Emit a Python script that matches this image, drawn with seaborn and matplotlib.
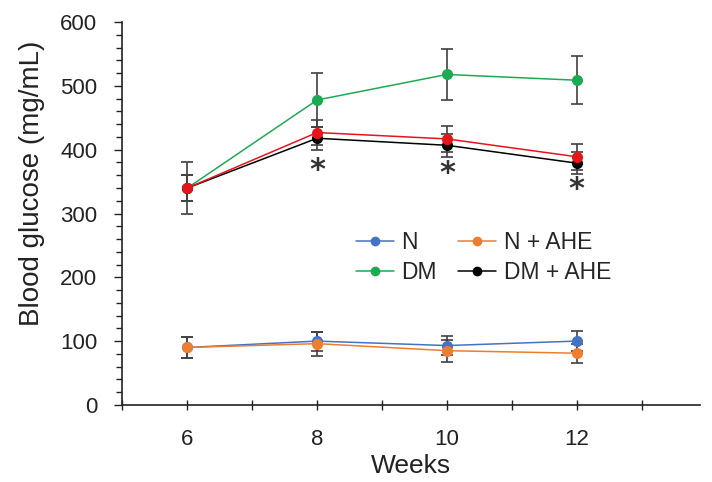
import pandas as pd
import matplotlib
matplotlib.use("Agg")
import matplotlib.pyplot as plt
import seaborn as sns
from matplotlib.lines import Line2D
from matplotlib.ticker import MultipleLocator

weeks = [6, 8, 10, 12]
groups = ["N", "DM", "N + AHE", "DM + AHE", "DM + AHE (2)"]

n_vals = [90, 100, 93, 100]
n_err = [17, 15, 15, 16]
n_ahe_vals = [90, 96, 85, 81]
n_ahe_err = [17, 19, 17, 15]
dm_vals = [340, 478, 518, 509]
dm_err = [40, 42, 40, 38]
dm_ahe_vals = [340, 418, 407, 379]
dm_ahe_err = [20, 18, 18, 17]
red_vals = [340, 427, 417, 389]
red_err = [20, 20, 20, 20]

star_weeks = [8, 10, 12]
star_y = [372, 367, 342]

colors = {"N": "#4472C4", "DM": "#1DAA55", "N + AHE": "#ED7D31",
          "DM + AHE": "#000000", "DM + AHE (2)": "#E8141B"}

series = {"N": (n_vals, n_err), "DM": (dm_vals, dm_err),
          "N + AHE": (n_ahe_vals, n_ahe_err), "DM + AHE": (dm_ahe_vals, dm_ahe_err),
          "DM + AHE (2)": (red_vals, red_err)}

rows = []
for g in groups:
    vals, errs = series[g]
    for w, v, e in zip(weeks, vals, errs):
        rows.append({"week": w, "glucose": v, "err": e, "group": g})
df = pd.DataFrame(rows)

sns.set_style("ticks")
plt.rcParams["font.family"] = ["Liberation Sans", "DejaVu Sans"]

fig = plt.figure(figsize=(7.12, 4.82), dpi=100)
ax = fig.add_axes([0.172, 0.16, 0.811, 0.794])

# error bars first, grey caps
for g in groups:
    d = df[df["group"] == g]
    ax.errorbar(d["week"], d["glucose"], yerr=d["err"], fmt="none",
                ecolor="#404040", elinewidth=1.2, capsize=4, capthick=1.2, zorder=2)

sns.lineplot(data=df, x="week", y="glucose", hue="group", hue_order=groups,
             palette=colors, marker="o", markersize=8, markeredgewidth=0,
             linewidth=1.1, ax=ax, legend=False, zorder=3)

# significance marks, six-armed asterisk
for w, y in zip(star_weeks, star_y):
    ax.text(w, y, "*", ha="center", va="center_baseline", fontsize=22,
            fontweight="bold", color="#333333", family="DejaVu Sans")

# legend (red series is not listed)
handles = [Line2D([], [], color=colors[g], marker="o", markersize=7, markeredgewidth=0,
                  linewidth=1.1, label=g) for g in groups[:4]]
ax.legend(handles=handles, ncol=2, frameon=False, fontsize=16.5, handlelength=1.65,
          handletextpad=0.35, columnspacing=0.9, labelspacing=0.3,
          loc="center", bbox_to_anchor=(0.625, 0.385))

ax.set_xlim(5, 13.9)
ax.set_ylim(0, 600)
ax.xaxis.set_major_locator(MultipleLocator(2))
ax.xaxis.set_minor_locator(MultipleLocator(1))
ax.yaxis.set_major_locator(MultipleLocator(100))
ax.yaxis.set_minor_locator(MultipleLocator(20))
ax.tick_params(axis="both", which="major", direction="out", length=6, width=1,
               color="#222222", labelsize=16, labelcolor="#222222")
ax.tick_params(axis="both", which="minor", direction="out", length=4, width=1,
               color="#222222")
ax.tick_params(axis="y", which="major", pad=12)
ax.tick_params(axis="x", which="both", direction="inout", length=7, pad=14)
ax.set_xlabel("Weeks", fontsize=19, color="#222222", labelpad=3)
ax.set_ylabel("Blood glucose (mg/mL)", fontsize=20, color="#222222")
ax.yaxis.set_label_coords(-0.135, 0.58)
sns.despine(ax=ax)
for s in ["left", "bottom"]:
    ax.spines[s].set_linewidth(1.2)
    ax.spines[s].set_color("#222222")

plt.savefig("out.png", dpi=100)
plt.close()
